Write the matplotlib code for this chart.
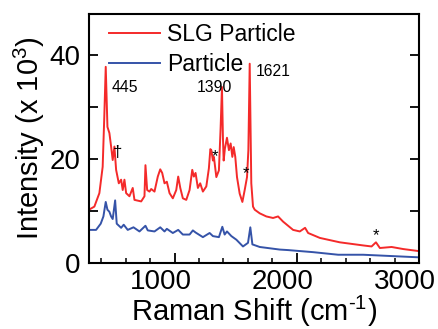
import matplotlib
matplotlib.use('Agg')
import matplotlib.pyplot as plt
import matplotlib.transforms as mtransforms
from matplotlib.ticker import MultipleLocator

plt.rcParams['font.family'] = ['Liberation Sans', 'DejaVu Sans']
plt.rcParams['mathtext.fontset'] = 'custom'
plt.rcParams['mathtext.rm'] = 'Liberation Sans'
plt.rcParams['mathtext.it'] = 'Liberation Sans:italic'
plt.rcParams['mathtext.bf'] = 'Liberation Sans:bold'

# SLG particle spectrum (red)
slg_shift = [300, 344, 385, 412, 425, 437, 451, 467, 481, 494, 508, 522, 544, 563, 576,
             590, 604, 631, 658, 672, 727, 754, 762, 776, 795, 809, 836, 863, 883, 899,
             918, 937, 959, 986, 1014, 1030, 1047, 1068, 1096, 1123, 1145, 1158, 1172,
             1191, 1210, 1232, 1260, 1281, 1293, 1301, 1314, 1322, 1342, 1363, 1377,
             1388, 1396, 1402, 1412, 1429, 1445, 1459, 1473, 1484, 1497, 1511, 1533,
             1555, 1574, 1593, 1604, 1615, 1628, 1642, 1656, 1697, 1751, 1806, 1847,
             1888, 1970, 2025, 2068, 2093, 2189, 2352, 2543, 2612, 2648, 2680, 2776,
             2871, 3000]
slg_int = [10.2, 10.8, 13.4, 18.5, 28.0, 37.8, 26.2, 25.0, 22.4, 19.8, 22.4, 17.9, 15.3,
           16.0, 14.0, 16.0, 13.4, 12.8, 14.4, 12.1, 11.8, 12.8, 18.8, 14.0, 13.7, 14.2,
           13.7, 16.6, 18.0, 17.3, 15.3, 15.6, 13.4, 12.4, 14.0, 16.6, 14.4, 12.4, 12.1,
           14.0, 17.9, 16.6, 17.3, 14.4, 15.3, 13.7, 14.7, 18.2, 21.9, 21.7, 19.7, 20.4,
           16.5, 17.8, 26.0, 33.9, 24.0, 19.7, 22.0, 24.1, 21.7, 23.0, 20.4, 22.3, 20.4,
           16.5, 13.3, 11.7, 14.0, 16.5, 21.7, 38.4, 15.3, 10.8, 10.2, 9.5, 8.9, 8.6,
           8.9, 7.9, 6.3, 6.0, 6.7, 5.7, 4.75, 3.9, 3.3, 3.1, 3.9, 2.8, 3.0, 2.6, 2.2]

# bare particle spectrum (blue)
par_shift = [300, 358, 396, 418, 437, 451, 467, 481, 494, 514, 527, 563, 584, 617, 664,
             713, 762, 781, 836, 883, 918, 937, 986, 1030, 1068, 1123, 1150, 1172, 1232,
             1287, 1314, 1363, 1391, 1410, 1429, 1465, 1506, 1560, 1601, 1620, 1637,
             1697, 1861, 1929, 2134, 2339, 2543, 3000]
par_int = [6.3, 6.3, 7.5, 8.9, 11.7, 10.2, 9.8, 8.9, 8.4, 12.0, 7.5, 6.7, 7.3, 6.3, 6.8,
           6.0, 7.1, 6.2, 6.0, 6.8, 6.0, 6.5, 5.7, 6.3, 5.4, 5.4, 6.2, 5.8, 4.9, 5.7, 5.1,
           4.9, 6.9, 5.4, 6.0, 5.1, 4.4, 3.1, 3.8, 6.8, 3.5, 3.0, 2.5, 2.4, 2.0, 1.5, 1.5, 1.0]

peak_labels = ['445', '1390', '1621']
peak_label_pos = [(484, 33.9), (1178, 33.9), (1661, 36.9)]
mark_symbols = ['\u2020', '*', '*', '*']
mark_pos = [(535, 21.3), (1328, 20.4), (1582, 17.2), (2648, 5.2)]

fig = plt.figure(figsize=(4.39, 3.29), dpi=100)
ax = fig.add_axes([0.2027, 0.2021, 0.7517, 0.7553])

ax.plot(slg_shift, slg_int, color='#f42a2a', lw=1.4, label='SLG Particle')
ax.plot(par_shift, par_int, color='#3553a8', lw=1.4, label='Particle')

for txt, (x, y) in zip(peak_labels, peak_label_pos):
    ax.text(x, y, txt, fontsize=11.3, ha='left', va='center')
for txt, (x, y) in zip(mark_symbols, mark_pos):
    ax.text(x, y, txt, fontsize=12, ha='center', va='center')

ax.set_xlim(300, 3000)
ax.set_ylim(0, 48)
ax.xaxis.set_major_locator(MultipleLocator(1000))
ax.xaxis.set_minor_locator(MultipleLocator(200))
ax.set_yticks([0, 10, 20, 30, 40])
ax.set_yticklabels(['0', '', '20', '', '40'])

ax.tick_params(axis='x', which='major', direction='in', length=7, width=1.3,
               labelsize=20, pad=5, top=False)
ax.tick_params(axis='x', which='minor', direction='in', length=3.6, width=1.1, top=False)
ax.tick_params(axis='y', which='major', direction='in', length=6.5, width=1.3,
               labelsize=20, pad=6, right=True)
for s in ax.spines.values():
    s.set_linewidth(1.5)

# tick labels sit a bit left of their ticks in the original
shift = mtransforms.ScaledTranslation(-14 / 100, 0, fig.dpi_scale_trans)
for lab in ax.get_xticklabels():
    lab.set_transform(lab.get_transform() + shift)

ax.set_xlabel(r'Raman Shift (cm$^{\mathregular{\text{-}1}}$)', fontsize=21, labelpad=-1)
ax.set_ylabel(r'Intensity (x 10$^{\mathregular{3}}$)', fontsize=21, labelpad=2)

ax.legend(loc='upper left', bbox_to_anchor=(0.02, 1.02), frameon=False, fontsize=16.5,
          handlelength=2.2, handletextpad=0.3, labelspacing=0.3, borderaxespad=0.2)

fig.savefig('out.png', dpi=100)
